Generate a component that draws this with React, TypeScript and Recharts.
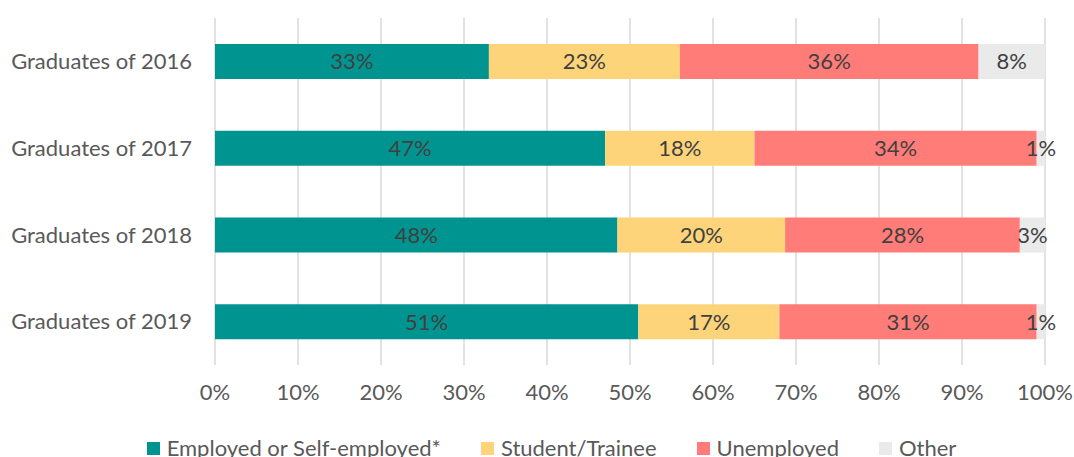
import { BarChart, Bar, XAxis, YAxis, CartesianGrid, Legend, LabelList } from "recharts"

const categories = ["Graduates of 2016", "Graduates of 2017", "Graduates of 2018", "Graduates of 2019"]
const employed = [33, 47, 48, 51]
const student = [23, 18, 20, 17]
const unemployed = [36, 34, 28, 31]
const other = [8, 1, 3, 1]
const xTicks = [0, 0.1, 0.2, 0.3, 0.4, 0.5, 0.6, 0.7, 0.8, 0.9, 1]

const series = [
  { key: "employed", name: "Employed or Self-employed*", color: "#009490" },
  { key: "student", name: "Student/Trainee", color: "#FED47A" },
  { key: "unemployed", name: "Unemployed", color: "#FF7C78" },
  { key: "other", name: "Other", color: "#EAEAEA" },
]

const data = categories.map((name, i) => ({
  name,
  employed: employed[i],
  student: student[i],
  unemployed: unemployed[i],
  other: other[i],
}))

const FONT = "Lato, 'Open Sans', sans-serif"

function LegendContent() {
  return (
    <div
      style={{
        display: "flex",
        justifyContent: "center",
        height: 24,
        lineHeight: "24px",
        fontSize: 22,
        color: "#595959",
        fontFamily: FONT,
        gap: 40,
        paddingLeft: 58,
      }}
    >
      {series.map((s) => (
        <div key={s.key} style={{ display: "flex", alignItems: "center" }}>
          <span style={{ width: 13, height: 13, background: s.color, marginRight: 7, display: "inline-block" }} />
          <span>{s.name}</span>
        </div>
      ))}
    </div>
  )
}

export default function App() {
  return (
    <div style={{ position: "absolute", left: 0, top: 0, fontFamily: FONT }}>
      <BarChart
        width={1074}
        height={470}
        data={data}
        layout="vertical"
        stackOffset="expand"
        margin={{ top: 18, right: 29, left: 0, bottom: 10 }}
      >
        <CartesianGrid horizontal={false} stroke="#D9D9D9" strokeWidth={1.5} />
        <XAxis
          type="number"
          domain={[0, 1]}
          ticks={xTicks}
          tickFormatter={(v) => `${Math.round(v * 100)}%`}
          axisLine={false}
          tickLine={false}
          tickSize={0}
          tickMargin={19}
          height={71}
          tick={{ fill: "#595959", fontSize: 22 }}
        />
        <YAxis
          type="category"
          dataKey="name"
          width={215}
          axisLine={false}
          tickLine={false}
          tickMargin={17}
          tick={{ fill: "#595959", fontSize: 22 }}
        />
        <Legend verticalAlign="bottom" content={() => <LegendContent />} />
        {series.map((s) => (
          <Bar key={s.key} dataKey={s.key} name={s.name} stackId="a" fill={s.color} barSize={35} isAnimationActive={false}>
            <LabelList
              dataKey={s.key}
              position="center"
              formatter={(v: number) => `${v}%`}
              fill="#404040"
              fontSize={22}
            />
          </Bar>
        ))}
      </BarChart>
    </div>
  )
}
